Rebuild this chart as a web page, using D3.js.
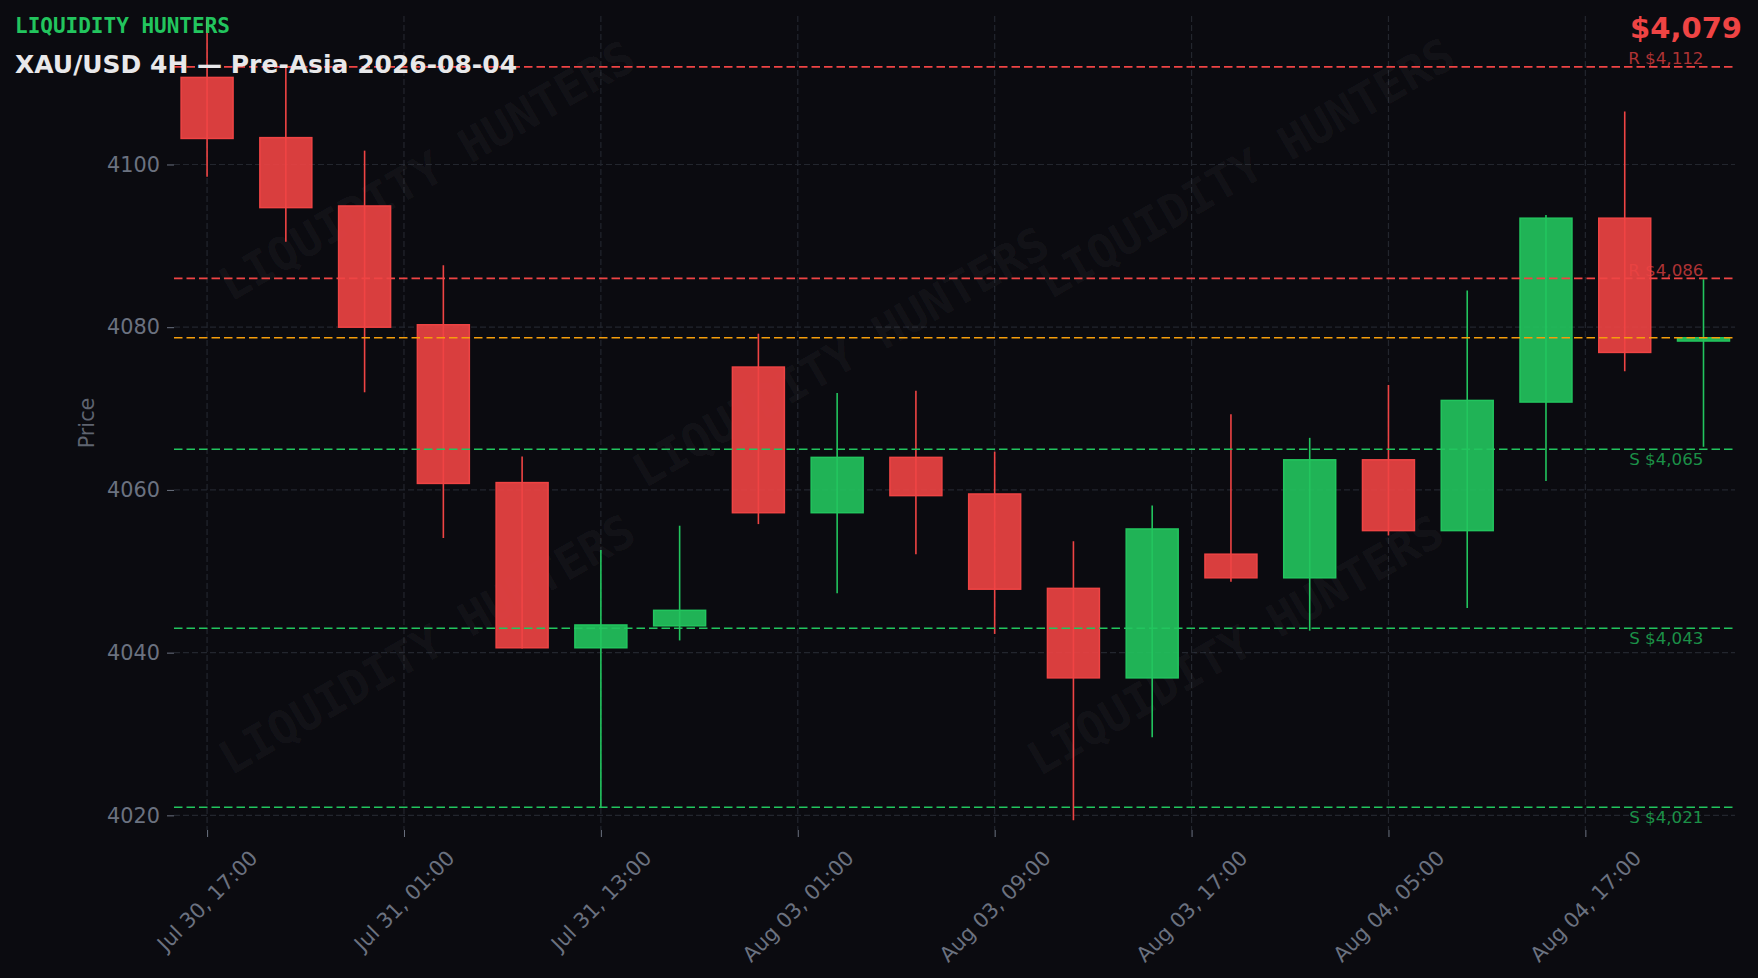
<!DOCTYPE html>
<html>
<head>
<meta charset="utf-8">
<script src="https://cdn.jsdelivr.net/npm/d3@7"></script>
<style>
    html, body { margin: 0; padding: 0; background: #0b0b10; }
    svg { display: block; }
</style>
</head>
<body>
<div id="chart"></div>
<script>
// 4H candles, Jul 30 17:00 -> Aug 04
const opens  = [4110.7, 4103.3, 4094.9, 4080.3, 4060.9, 4040.6, 4043.3, 4075.1, 4057.2, 4064.0,
                4059.5, 4047.9, 4036.9, 4052.1, 4049.2, 4063.7, 4055.0, 4070.8, 4093.4, 4078.3];
const highs  = [4117.8, 4111.9, 4101.7, 4087.6, 4064.1, 4052.6, 4055.6, 4079.2, 4071.9, 4072.2,
                4064.7, 4053.7, 4058.1, 4069.3, 4066.4, 4072.9, 4084.5, 4093.8, 4106.5, 4085.9];
const lows   = [4098.5, 4090.5, 4072.0, 4054.1, 4040.5, 4021.0, 4041.5, 4055.8, 4047.3, 4052.1,
                4042.3, 4019.4, 4029.6, 4048.7, 4042.7, 4054.4, 4045.5, 4061.1, 4074.6, 4065.3];
const closes = [4103.2, 4094.7, 4080.0, 4060.8, 4040.6, 4043.4, 4045.2, 4057.2, 4064.0, 4059.3,
                4047.8, 4036.9, 4055.2, 4049.2, 4063.7, 4055.0, 4071.0, 4093.4, 4076.9, 4078.7];

const tickIdx = [0, 2.5, 5, 7.5, 10, 12.5, 15, 17.5];
const tickLabels = ["Jul 30, 17:00", "Jul 31, 01:00", "Jul 31, 13:00", "Aug 03, 01:00",
                    "Aug 03, 09:00", "Aug 03, 17:00", "Aug 04, 05:00", "Aug 04, 17:00"];
const priceTicks = [4020, 4040, 4060, 4080, 4100];

const resistance = [4112, 4086];
const support = [4065, 4043, 4021];
const lastPrice = 4078.7;

const brand = "LIQUIDITY HUNTERS";
const title = "XAU/USD 4H \u2014 Pre-Asia 2026-08-04";

const UP = "#22c55e", DOWN = "#ef4444", ORANGE = "#f59e0b";

class CandleVis {
    constructor(_parentElement) {
        this.parentElement = _parentElement;
        this.initVis();
    }

    initVis() {
        let vis = this;

        vis.W = 1758;
        vis.H = 978;
        vis.margin = { top: 16, right: 23, bottom: 148, left: 174 };
        vis.width = vis.W - vis.margin.left - vis.margin.right;
        vis.height = vis.H - vis.margin.top - vis.margin.bottom;

        vis.root = d3.select(`#${vis.parentElement}`)
            .append("svg")
            .attr("width", vis.W)
            .attr("height", vis.H)
            .style("font-family", "'DejaVu Sans', sans-serif");

        vis.root.append("rect")
            .attr("width", vis.W).attr("height", vis.H)
            .attr("fill", "#0b0b10");

        vis.svg = vis.root.append("g")
            .attr("transform", `translate(${vis.margin.left},${vis.margin.top})`);

        vis.svg.append("clipPath").attr("id", "plot-clip")
            .append("rect").attr("width", vis.width).attr("height", vis.height);

        vis.x = d3.scaleLinear().domain([-0.42, 19.4]).range([0, vis.width]);
        vis.y = d3.scaleLinear().domain([4018.2, 4118.25]).range([vis.height, 0]);

        vis.wrangleData();
    }

    wrangleData() {
        let vis = this;
        vis.displayData = opens.map((o, i) => ({
            i: i, open: o, high: highs[i], low: lows[i], close: closes[i],
            up: closes[i] >= o
        }));
        vis.levels = resistance.map(v => ({ v: v, kind: "R" }))
            .concat(support.map(v => ({ v: v, kind: "S" })));
        vis.updateVis();
    }

    updateVis() {
        let vis = this;
        const fmt = d3.format(",.0f");
        const fs = 20.8;

        // grid
        const grid = vis.svg.append("g").attr("class", "grid");
        grid.selectAll(".hgrid").data(priceTicks).enter().append("line")
            .attr("x1", 0).attr("x2", vis.width)
            .attr("y1", d => vis.y(d)).attr("y2", d => vis.y(d))
            .attr("stroke", "#23262e").attr("stroke-width", 1.2)
            .attr("stroke-dasharray", "6,3");
        grid.selectAll(".vgrid").data(tickIdx).enter().append("line")
            .attr("y1", 0).attr("y2", vis.height)
            .attr("x1", d => vis.x(d)).attr("x2", d => vis.x(d))
            .attr("stroke", "#23262e").attr("stroke-width", 1.2)
            .attr("stroke-dasharray", "6,3");

        // watermark
        const marks = [[0.162, 0.19], [0.687, 0.187], [0.427, 0.419], [0.162, 0.772], [0.68, 0.773]];
        vis.svg.append("g").attr("clip-path", "url(#plot-clip)")
            .selectAll("text").data(marks).enter().append("text")
            .attr("transform", d => `translate(${d[0] * vis.width},${d[1] * vis.height}) rotate(-30)`)
            .attr("text-anchor", "middle")
            .attr("dominant-baseline", "central")
            .style("font-family", "'DejaVu Sans Mono', monospace")
            .style("font-weight", "bold")
            .style("font-size", "46px")
            .attr("fill", "#ffffff")
            .attr("fill-opacity", 0.05)
            .text(brand);

        // candles
        const bw = vis.x(0.33) - vis.x(0);
        const candles = vis.svg.append("g").attr("clip-path", "url(#plot-clip)")
            .selectAll("g").data(vis.displayData).enter().append("g");

        candles.append("line")
            .attr("x1", d => vis.x(d.i)).attr("x2", d => vis.x(d.i))
            .attr("y1", d => vis.y(d.high)).attr("y2", d => vis.y(d.low))
            .attr("stroke", d => d.up ? UP : DOWN)
            .attr("stroke-width", 1.6);

        candles.append("rect")
            .attr("x", d => vis.x(d.i) - bw)
            .attr("width", bw * 2)
            .attr("y", d => vis.y(Math.max(d.open, d.close)))
            .attr("height", d => Math.max(1, Math.abs(vis.y(d.open) - vis.y(d.close))))
            .attr("fill", d => d.up ? UP : DOWN)
            .attr("fill-opacity", 0.9)
            .attr("stroke", d => d.up ? UP : DOWN)
            .attr("stroke-width", 1.5);

        // support / resistance levels
        const lv = vis.svg.append("g");
        lv.selectAll("line").data(vis.levels).enter().append("line")
            .attr("x1", 0).attr("x2", vis.width)
            .attr("y1", d => vis.y(d.v)).attr("y2", d => vis.y(d.v))
            .attr("stroke", d => d.kind === "R" ? DOWN : UP)
            .attr("stroke-width", 1.6)
            .attr("stroke-dasharray", "8.5,4");

        lv.append("line")
            .attr("x1", 0).attr("x2", vis.width)
            .attr("y1", vis.y(lastPrice)).attr("y2", vis.y(lastPrice))
            .attr("stroke", ORANGE)
            .attr("stroke-width", 1.6)
            .attr("stroke-dasharray", "8.5,4");

        lv.selectAll("text").data(vis.levels).enter().append("text")
            .attr("x", vis.x(19))
            .attr("y", d => d.kind === "R" ? vis.y(d.v) - 2.5 : vis.y(d.v) + 16)
            .attr("text-anchor", "end")
            .style("font-size", "16.7px")
            .attr("fill", d => d.kind === "R" ? DOWN : UP)
            .attr("fill-opacity", 0.72)
            .text(d => `${d.kind} $${fmt(d.v)}`);

        // y axis
        const yAxis = vis.svg.append("g")
            .call(d3.axisLeft(vis.y).tickValues(priceTicks).tickFormat(d3.format("d"))
                .tickSize(7).tickPadding(7));
        yAxis.select(".domain").remove();
        yAxis.selectAll("line").attr("stroke", "#6b7280");
        yAxis.selectAll("text")
            .style("font-family", "'DejaVu Sans', sans-serif")
            .style("font-size", fs + "px")
            .attr("fill", "#6b7280");

        vis.svg.append("text")
            .attr("transform", `translate(${87 - vis.margin.left},${vis.height / 2}) rotate(-90)`)
            .attr("text-anchor", "middle")
            .attr("dominant-baseline", "central")
            .style("font-size", fs + "px")
            .attr("fill", "#5f6470")
            .text("Price");

        // x axis
        const xAxis = vis.svg.append("g")
            .attr("transform", `translate(0,${vis.height})`)
            .call(d3.axisBottom(vis.x).tickValues(tickIdx)
                .tickFormat((d, i) => tickLabels[i]).tickSize(7));
        xAxis.select(".domain").remove();
        xAxis.selectAll("line").attr("stroke", "#6b7280");
        xAxis.selectAll("text")
            .style("font-family", "'DejaVu Sans', sans-serif")
            .style("font-size", fs + "px")
            .attr("fill", "#6b7280")
            .attr("x", 0).attr("y", 0).attr("dy", null)
            .attr("text-anchor", "middle")
            .attr("dominant-baseline", "central")
            .each(function () {
                const L = this.getComputedTextLength();
                const h = (L + fs) * Math.SQRT1_2;
                d3.select(this).attr("transform", `translate(0,${17 + h / 2}) rotate(-45)`);
            });

        // header texts
        vis.root.append("text")
            .attr("x", 15).attr("y", 33)
            .style("font-family", "'DejaVu Sans Mono', monospace")
            .style("font-weight", "bold")
            .style("font-size", "21px")
            .attr("fill", UP)
            .text(brand);

        vis.root.append("text")
            .attr("x", 15).attr("y", 73)
            .style("font-weight", "bold")
            .style("font-size", "25px")
            .attr("fill", "#e8e8ea")
            .text(title);

        vis.root.append("text")
            .attr("x", 1742).attr("y", 38)
            .attr("text-anchor", "end")
            .style("font-weight", "bold")
            .style("font-size", "29px")
            .attr("fill", DOWN)
            .text("$" + fmt(lastPrice));
    }
}

new CandleVis("chart");
</script>
</body>
</html>
